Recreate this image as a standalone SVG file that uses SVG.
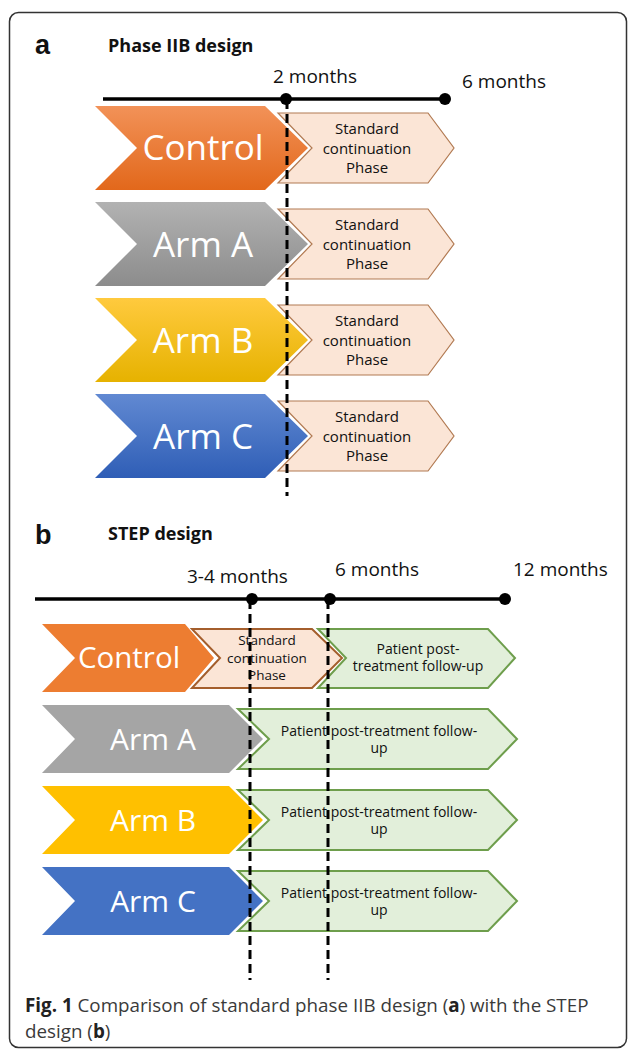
<svg xmlns="http://www.w3.org/2000/svg" width="632" height="1050" viewBox="0 0 632 1050">
<defs>
<linearGradient id="gOr" x1="0" y1="0" x2="0" y2="1"><stop offset="0" stop-color="#F29258"/><stop offset="1" stop-color="#E2681B"/></linearGradient>
<linearGradient id="gGy" x1="0" y1="0" x2="0" y2="1"><stop offset="0" stop-color="#B2B2B2"/><stop offset="1" stop-color="#8C8C8C"/></linearGradient>
<linearGradient id="gYe" x1="0" y1="0" x2="0" y2="1"><stop offset="0" stop-color="#FFCA3E"/><stop offset="1" stop-color="#E6B200"/></linearGradient>
<linearGradient id="gBl" x1="0" y1="0" x2="0" y2="1"><stop offset="0" stop-color="#6189D2"/><stop offset="1" stop-color="#2F5EB6"/></linearGradient>
</defs>
<style>
text{font-family:"Open Sans","Noto Sans","Liberation Sans",sans-serif;}
.lab{font-family:"Liberation Sans",Arial,sans-serif;font-weight:bold;font-size:27px;fill:#111;}
.ttl{font-weight:bold;font-size:18px;fill:#111;}
.tm{font-size:19px;fill:#111;}
.big{font-size:35px;fill:#fff;text-anchor:middle;}
.bigb{font-size:30px;fill:#fff;text-anchor:middle;}
.pale{fill:#FBE5D6;stroke:#B27A52;stroke-width:1.2;}
.paleb{fill:#FBE5D6;stroke:#A45E2C;stroke-width:2;}
.grn{fill:#E2EFDA;stroke:#6E9E4C;stroke-width:2;}
.st{font-size:15px;fill:#111;text-anchor:middle;}
.stb{font-size:13.5px;fill:#111;text-anchor:middle;}
.pt{font-size:14px;fill:#111;text-anchor:middle;}
.tl{stroke:#000;stroke-width:3.5;fill:none;}
.dash{stroke:#000;stroke-width:3;stroke-dasharray:9 5;fill:none;}
.cap{font-size:18.8px;fill:#3a3a3a;}
</style>
<rect x="9.5" y="12.5" width="617" height="1035" rx="9" fill="#fff" stroke="#333" stroke-width="1.5"/>
<g id="headers">
<text class="lab" x="35" y="54">a</text>
<text class="ttl" x="108" y="52">Phase IIB design</text>
<text class="lab" x="35" y="544">b</text>
<text class="ttl" x="108" y="540">STEP design</text>
<text class="tm" x="273" y="83">2 months</text>
<text class="tm" x="462" y="88">6 months</text>
<text class="tm" x="187" y="583">3-4 months</text>
<text class="tm" x="335" y="576">6 months</text>
<text class="tm" x="513" y="576">12 months</text>
</g>
<!-- Panel a -->
<g id="a-control">
<polygon class="pale" points="278,113 428,113 454,148 428,183 278,183 312,148"/>
<polygon fill="url(#gOr)" points="95,106 265,106 308,148 265,190 95,190 137,148"/>
<text class="big" x="203" y="160">Control</text>
<text class="st" x="367" y="133.5">Standard</text><text class="st" x="367" y="153.5">continuation</text><text class="st" x="367" y="173">Phase</text>
</g>
<g id="a-armA">
<polygon class="pale" points="278,209 428,209 454,244 428,279 278,279 312,244"/>
<polygon fill="url(#gGy)" points="95,202 265,202 308,244 265,286 95,286 137,244"/>
<text class="big" x="203" y="256.5">Arm A</text>
<text class="st" x="367" y="229.5">Standard</text><text class="st" x="367" y="249.5">continuation</text><text class="st" x="367" y="269">Phase</text>
</g>
<g id="a-armB">
<polygon class="pale" points="278,305 428,305 454,340 428,375 278,375 312,340"/>
<polygon fill="url(#gYe)" points="95,298 265,298 308,340 265,382 95,382 137,340"/>
<text class="big" x="203" y="352.5">Arm B</text>
<text class="st" x="367" y="325.5">Standard</text><text class="st" x="367" y="345.5">continuation</text><text class="st" x="367" y="365">Phase</text>
</g>
<g id="a-armC">
<polygon class="pale" points="278,401 428,401 454,436 428,471 278,471 312,436"/>
<polygon fill="url(#gBl)" points="95,394 265,394 308,436 265,478 95,478 137,436"/>
<text class="big" x="203" y="448.5">Arm C</text>
<text class="st" x="367" y="421.5">Standard</text><text class="st" x="367" y="441.5">continuation</text><text class="st" x="367" y="461">Phase</text>
</g>
<!-- Panel b -->
<g id="b-control">
<polygon class="grn" points="318,629 488,629 515,658 488,688 318,688 346,658"/>
<polygon class="paleb" points="192,629 312,629 342,658 312,688 192,688 220,658"/>
<polygon fill="#ED7D31" points="42,624 185,624 214,658 185,692 42,692 75,658"/>
<text class="bigb" x="129" y="668" style="font-size:29.5px">Control</text>
<text class="stb" x="267" y="645">Standard</text><text class="stb" x="267" y="663">continuation</text><text class="stb" x="267" y="680">Phase</text>
<text class="pt" x="418" y="654">Patient post-</text><text class="pt" x="418" y="671">treatment follow-up</text>
</g>
<g id="b-armA">
<polygon class="grn" points="238,709 488,709 517,739 488,769 238,769 269,739"/>
<polygon fill="#A5A5A5" points="42,705 229,705 263,739 229,773 42,773 75,739"/>
<text class="bigb" x="153" y="750">Arm A</text>
<text class="pt" x="379" y="736">Patient post-treatment follow-</text><text class="pt" x="379" y="753">up</text>
</g>
<g id="b-armB">
<polygon class="grn" points="238,790 488,790 517,820 488,850 238,850 269,820"/>
<polygon fill="#FFC000" points="42,786 229,786 263,820 229,854 42,854 75,820"/>
<text class="bigb" x="153" y="831">Arm B</text>
<text class="pt" x="379" y="817">Patient post-treatment follow-</text><text class="pt" x="379" y="834">up</text>
</g>
<g id="b-armC">
<polygon class="grn" points="238,871 488,871 517,901 488,931 238,931 269,901"/>
<polygon fill="#4472C4" points="42,867 229,867 263,901 229,935 42,935 75,901"/>
<text class="bigb" x="153" y="912">Arm C</text>
<text class="pt" x="379" y="898">Patient post-treatment follow-</text><text class="pt" x="379" y="915">up</text>
</g>
<g id="connectors">
<line class="tl" x1="103" y1="99" x2="445" y2="99"/>
<circle cx="286" cy="99" r="6"/><circle cx="445" cy="99" r="6"/>
<line class="dash" x1="287" y1="100" x2="287" y2="496"/>
<line class="tl" x1="35" y1="599" x2="505" y2="599"/>
<circle cx="252" cy="599" r="6"/><circle cx="330" cy="599" r="6"/><circle cx="505" cy="599" r="6"/>
<line class="dash" x1="250" y1="600" x2="250" y2="980"/>
<line class="dash" x1="328" y1="600" x2="328" y2="980"/>
</g>
<g id="caption">
<text class="cap" x="25" y="1012"><tspan font-weight="bold" fill="#222">Fig. 1</tspan> Comparison of standard phase IIB design (<tspan font-weight="bold" fill="#222">a</tspan>) with the STEP</text>
<text class="cap" x="25" y="1038">design (<tspan font-weight="bold" fill="#222">b</tspan>)</text>
</g>
</svg>
